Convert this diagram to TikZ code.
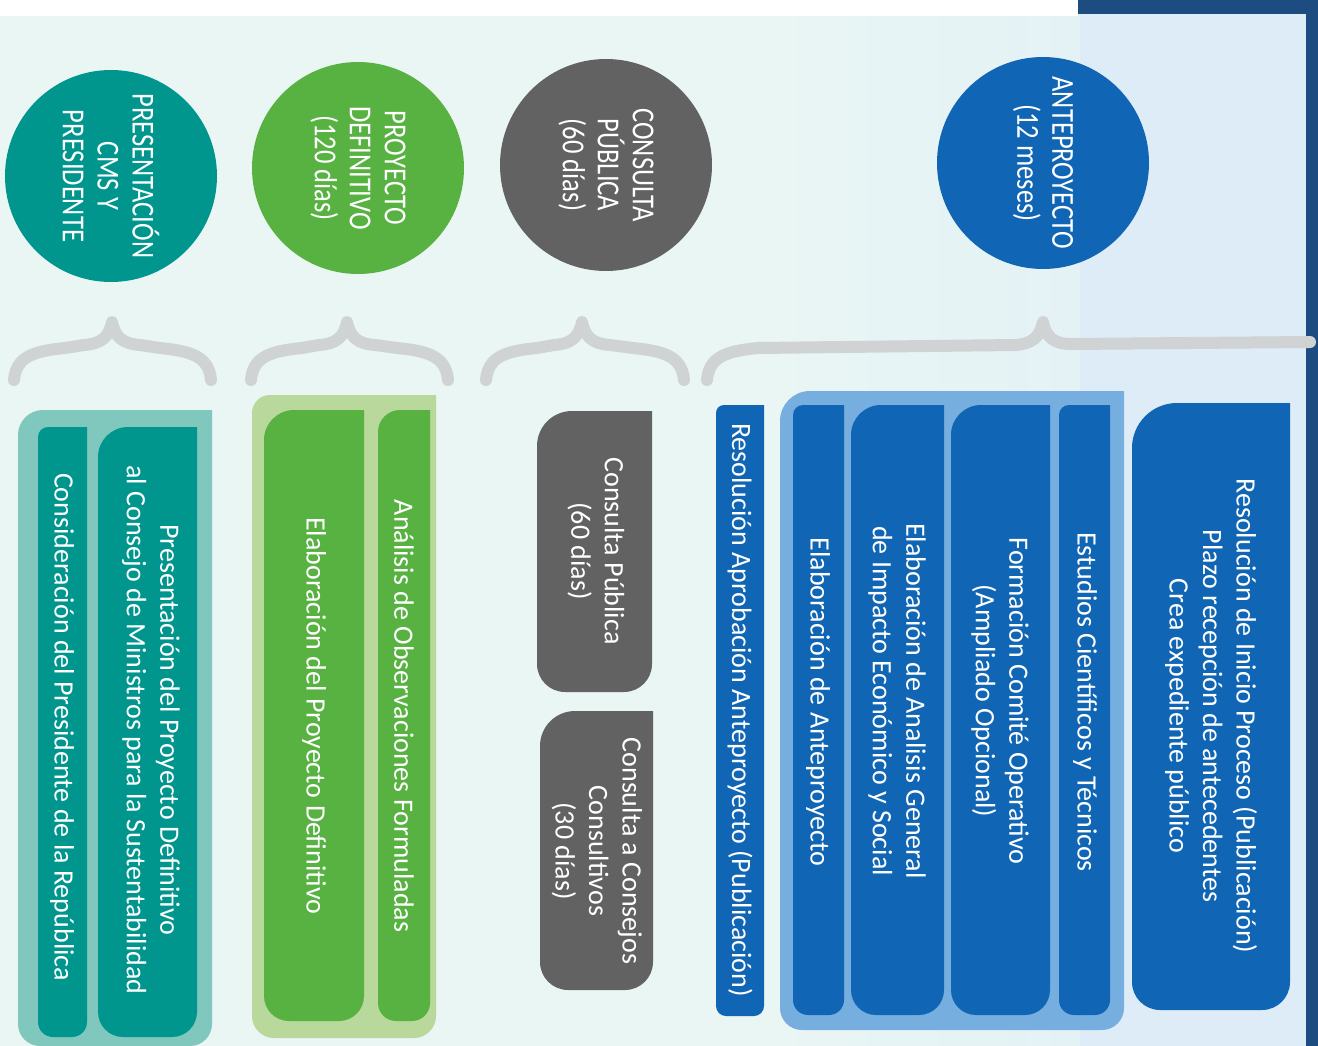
\documentclass[tikz,border=0pt]{standalone}
\usepackage{fontspec}
\setmainfont{Carlito}
\newfontfamily\circfont[FakeStretch=0.83]{Carlito}
\usepackage{xcolor}
\usepackage{tikz}

\definecolor{mint}{RGB}{233,246,244}
\definecolor{skyb}{RGB}{222,236,248}
\definecolor{navy}{RGB}{28,76,128}
\definecolor{bracegray}{RGB}{208,211,211}
\definecolor{tealc}{RGB}{0,150,142}
\definecolor{teall}{RGB}{128,200,190}
\definecolor{greenc}{RGB}{88,178,66}
\definecolor{greenl}{RGB}{184,216,156}
\definecolor{grayc}{RGB}{98,98,98}
\definecolor{bluec}{RGB}{16,102,180}
\definecolor{bluel}{RGB}{118,174,224}

% panel: colour, x1, y1, x2, y2, top-left radius, bottom radius (top-right stays square)
\newcommand{\panel}[7]{\fill[#1] (#2,#3+#6) arc[start angle=180,end angle=270,radius=#6] -- (#4,#3) -- (#4,#5-#7) arc[start angle=0,end angle=90,radius=#7] -- (#2+#7,#5) arc[start angle=90,end angle=180,radius=#7] -- cycle;}
% grey brace: left x, tip x, right x
\newcommand{\grbrace}[3]{\draw[brc] (#1+4,380) .. controls (#1+6,356) and (#1+25,351) .. (#1+55,348) -- (#2-28,345) .. controls (#2-12,344) and (#2-3,338) .. (#2,322) .. controls (#2+3,338) and (#2+12,344) .. (#2+28,345) -- (#3-55,348) .. controls (#3-25,351) and (#3-6,356) .. (#3-4,380);}

\begin{document}
\begin{tikzpicture}[x=1pt, y=-1pt,
  brc/.style={draw=bracegray, line width=12pt, line cap=round, line join=round},
  phase/.style={circle, minimum size=212pt, inner sep=0pt, text=white, align=center, rotate=-90,
    font=\circfont\fontsize{32}{35}\selectfont},
  txt/.style={rotate=-90, text=white, align=center, inner sep=0pt, font=\fontsize{28}{33.5}\selectfont}]
\useasboundingbox (0,0) rectangle (1318,1046);
% background and frame
\fill[mint] (0,0) rectangle (1080,1046);
\shade[left color=mint, right color=mint!55!skyb] (760,0) rectangle (1080,1046);
\fill[skyb] (1080,0) rectangle (1306,1046);
\fill[white] (0,0) rectangle (1078,16);
\fill[navy] (1078,0) rectangle (1318,14);
\fill[navy] (1306,0) rectangle (1318,1046);

\node[phase, fill=tealc]  (pres)  at (111,176)  {PRESENTACIÓN\\CMS Y\\PRESIDENTE};
\node[phase, fill=greenc] (pdef)  at (358,168)  {PROYECTO\\DEFINITIVO\\(120 días)};
\node[phase, fill=grayc]  (cpub)  at (606,165)  {CONSULTA\\PÚBLICA\\(60 días)};
\node[phase, fill=bluec]  (antep) at (1043,163) {ANTEPROYECTO\\(12 meses)};

\grbrace{10}{112}{215}
\grbrace{247}{347}{452}
\grbrace{482}{582}{688}
\draw[brc] (707,380) .. controls (709,356) and (728,351) .. (758,348) -- (1015,345) .. controls (1031,344) and (1040,338) .. (1043,322) .. controls (1046,338) and (1055,344) .. (1071,344) -- (1310,342);

% presentacion
\panel{teall}{18}{410}{212}{1046}{25}{22}
\panel{tealc}{38}{427}{87}{1037}{10}{15}
\panel{tealc}{98}{427}{197}{1037}{30}{25}
\node[txt] (consid) at (62,727)  {Consideración del Presidente de la República};
\node[txt] (cms)    at (151,730) {Presentación del Proyecto Definitivo\\al Consejo de Ministros para la Sustentabilidad};

% proyecto definitivo
\panel{greenl}{252}{395}{436}{1038}{18}{22}
\panel{greenc}{264}{410}{364}{1021}{30}{25}
\panel{greenc}{378}{410}{430}{1021}{22}{18}
\node[txt] (elabpd) at (314,716) {Elaboración del Proyecto Definitivo};
\node[txt] (obs)    at (404,716) {Análisis de Observaciones Formuladas};

% consulta
\panel{grayc}{537}{411}{652}{692}{35}{28}
\panel{grayc}{540}{711}{653}{990}{35}{28}
\node[txt] (cp60)  at (596,551) {Consulta Pública\\(60 días)};
\node[txt] (cc30)  at (597,851) {Consulta a Consejos\\Consultivos\\(30 días)};

% anteproyecto
\panel{bluec}{716}{405}{764}{1016}{8}{10}
\panel{bluel}{780}{391}{1124}{1030}{30}{22}
\panel{bluec}{793}{405}{844}{1015}{10}{15}
\panel{bluec}{851}{405}{944}{1015}{30}{25}
\panel{bluec}{951}{405}{1050}{1015}{30}{25}
\panel{bluec}{1059}{405}{1110}{1015}{10}{15}
\panel{bluec}{1132}{403}{1290}{1010}{45}{28}
\node[txt] (aprob)  at (740,710)  {Resolución Aprobación Anteproyecto (Publicación)};
\node[txt] (elabap) at (818,702)  {Elaboración de Anteproyecto};
\node[txt] (aeis)   at (897,701)  {Elaboración de Analisis General\\de Impacto Económico y Social};
\node[txt] (comite) at (1000,701) {Formación Comité Operativo\\(Ampliado Opcional)};
\node[txt] (estud)  at (1085,702) {Estudios Científicos y Técnicos};
\node[txt] (inicio) at (1211,716) {Resolución de Inicio Proceso (Publicación)\\Plazo recepción de antecedentes\\Crea expediente público};
\end{tikzpicture}
\end{document}
